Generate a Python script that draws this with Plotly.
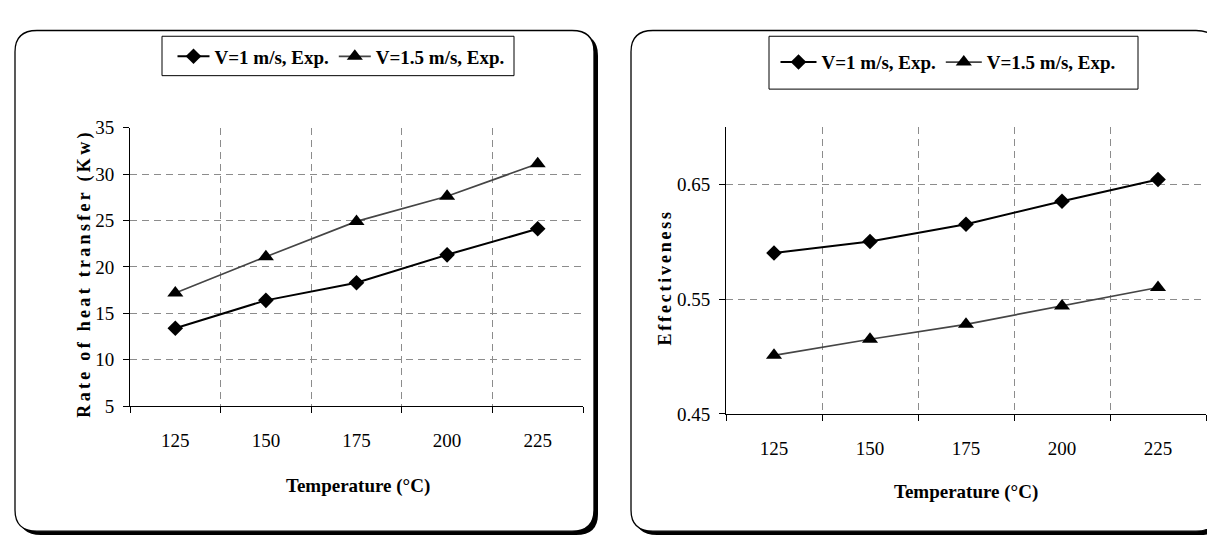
import plotly.graph_objects as go

# ---- data ----
temps = ["125", "150", "175", "200", "225"]
series_names = ["V=1 m/s, Exp.", "V=1.5 m/s, Exp."]
heat_v1 = [13.4, 16.4, 18.3, 21.3, 24.1]
heat_v15 = [17.2, 21.1, 24.9, 27.6, 31.1]
eff_v1 = [0.590, 0.600, 0.615, 0.635, 0.654]
eff_v15 = [0.501, 0.515, 0.528, 0.544, 0.560]
heat_ticks = [5, 10, 15, 20, 25, 30, 35]
eff_ticks = [0.45, 0.55, 0.65]

W, H = 1215, 539
FONT = "Liberation Serif, Times New Roman, serif"


def fx(x):
    return x / W


def fy(y):
    return 1 - y / H


def rrect(x0, y0, x1, y1, r):
    pts = [
        ("M", (x0 + r, y0)), ("L", (x1 - r, y0)), ("Q", (x1, y0), (x1, y0 + r)),
        ("L", (x1, y1 - r)), ("Q", (x1, y1), (x1 - r, y1)),
        ("L", (x0 + r, y1)), ("Q", (x0, y1), (x0, y1 - r)),
        ("L", (x0, y0 + r)), ("Q", (x0, y0), (x0 + r, y0)),
    ]
    s = ""
    for item in pts:
        cmd = item[0]
        coords = " ".join(f"{fx(p[0]):.5f},{fy(p[1]):.5f}" for p in item[1:])
        s += f"{cmd} {coords} "
    return s + "Z"


fig = go.Figure()

line_styles = [
    dict(color="black", width=2),
    dict(color="#454545", width=1.7),
]
marker_styles = [
    dict(symbol="diamond", size=12, color="black"),
    dict(symbol="triangle-up", size=14, color="black"),
]

for i, ys in enumerate([heat_v1, heat_v15]):
    fig.add_trace(go.Scatter(
        x=temps, y=ys, name=series_names[i], mode="lines+markers",
        line=line_styles[i], marker=marker_styles[i],
        xaxis="x", yaxis="y", legend="legend"))

for i, ys in enumerate([eff_v1, eff_v15]):
    fig.add_trace(go.Scatter(
        x=temps, y=ys, name=series_names[i], mode="lines+markers",
        line=line_styles[i], marker=marker_styles[i],
        xaxis="x2", yaxis="y2", legend="legend2"))

xcommon = dict(
    type="category", categoryorder="array", categoryarray=temps,
    range=[-0.5, 4.5], tickson="boundaries", ticks="outside", ticklen=6,
    tickcolor="black", showline=True, linecolor="black", linewidth=1,
    showgrid=True, gridcolor="#8c8c8c", gridwidth=1, griddash="7px,5px",
    tickfont=dict(family=FONT, size=19, color="black"),
    ticklabelstandoff=17, zeroline=False, fixedrange=True,
)
ycommon = dict(
    ticks="outside", ticklen=6, tickcolor="black", showline=True,
    linecolor="black", linewidth=1, showgrid=True, gridcolor="#8c8c8c",
    gridwidth=1, griddash="7px,5px",
    tickfont=dict(family=FONT, size=19, color="black"),
    ticklabelstandoff=5, zeroline=False, fixedrange=True,
)

legend_font = dict(family=FONT, size=19, color="black", weight="bold")

fig.update_layout(
    width=W, height=H, autosize=False,
    margin=dict(l=0, r=0, t=0, b=0),
    paper_bgcolor="white", plot_bgcolor="white",
    showlegend=True,
    xaxis=dict(xcommon, domain=[fx(122), fx(575)], anchor="y"),
    yaxis=dict(ycommon, domain=[fy(404), fy(114)], anchor="x",
               range=[heat_ticks[0], heat_ticks[-1]], tickvals=heat_ticks),
    xaxis2=dict(xcommon, domain=[fx(718), fx(1198)], anchor="y2"),
    yaxis2=dict(ycommon, domain=[fy(412), fy(113)], anchor="x2",
                range=[0.45, 0.70], tickvals=eff_ticks, tickformat=".2f"),
    legend=dict(orientation="h", x=fx(333), y=fy(40), xanchor="center",
                yanchor="middle", bgcolor="rgba(0,0,0,0)", borderwidth=0,
                font=legend_font, itemwidth=32, traceorder="normal"),
    legend2=dict(orientation="h", x=fx(940), y=fy(46), xanchor="center",
                 yanchor="middle", bgcolor="rgba(0,0,0,0)", borderwidth=0,
                 font=legend_font, itemwidth=36, traceorder="normal"),
)

shapes = []
# panels: shadow + white rounded frame
for (x0, y0, x1, y1) in [(7, 13, 586, 534), (623, 13, 1210, 534)]:
    shapes.append(dict(type="path", xref="paper", yref="paper", layer="below",
                       path=rrect(x0 + 4, y0 + 4, x1 + 4, y1 + 4, 22),
                       fillcolor="black", line=dict(width=0)))
    shapes.append(dict(type="path", xref="paper", yref="paper", layer="below",
                       path=rrect(x0, y0, x1, y1, 22),
                       fillcolor="white", line=dict(color="black", width=1.3)))
# legend boxes
for (x0, y0, x1, y1) in [(154, 19, 506, 60), (761, 19, 1130, 74)]:
    shapes.append(dict(type="rect", xref="paper", yref="paper", layer="below",
                       x0=fx(x0), x1=fx(x1), y0=fy(y0), y1=fy(y1),
                       fillcolor="rgba(0,0,0,0)", line=dict(color="black", width=1)))
fig.update_layout(shapes=shapes)

title_font = dict(family=FONT, size=19, color="black", weight="bold")
fig.add_annotation(text="Temperature (°C)", xref="paper", yref="paper",
                   x=fx(350), y=fy(487), showarrow=False, font=title_font,
                   xanchor="center", yanchor="middle")
fig.add_annotation(text="Temperature (°C)", xref="paper", yref="paper",
                   x=fx(958), y=fy(493), showarrow=False, font=title_font,
                   xanchor="center", yanchor="middle")
fig.add_annotation(text='<span style="letter-spacing:3.3px">Rate of heat transfer (Kw)</span>',
                   xref="paper", yref="paper", x=fx(77), y=fy(266), textangle=-90,
                   showarrow=False, font=dict(family=FONT, size=18, color="black", weight="bold"),
                   xanchor="center", yanchor="middle")
fig.add_annotation(text='<span style="letter-spacing:2.8px">Effectiveness</span>',
                   xref="paper", yref="paper", x=fx(657), y=fy(270), textangle=-90,
                   showarrow=False, font=dict(family=FONT, size=18, color="black", weight="bold"),
                   xanchor="center", yanchor="middle")

fig.write_html("out.html")
